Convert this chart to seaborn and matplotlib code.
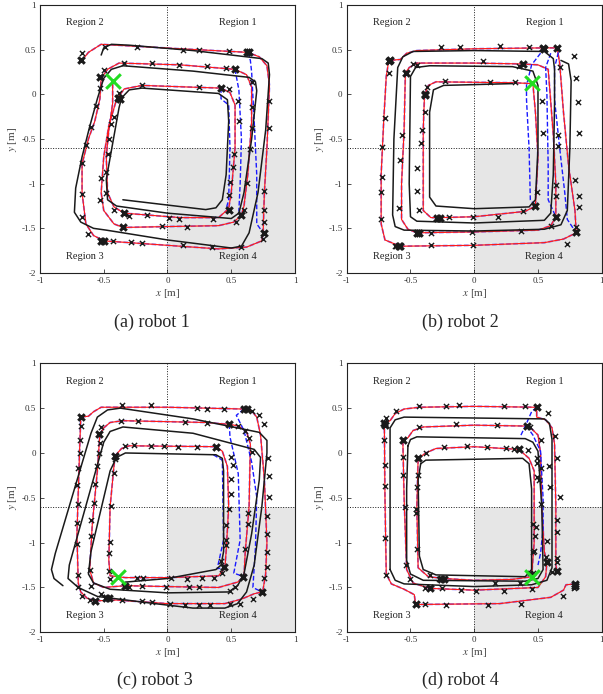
import numpy as np
import pandas as pd
import matplotlib.pyplot as plt
import seaborn as sns

sns.set_theme(style='white')
plt.rcParams['font.family'] = ['Liberation Serif', 'DejaVu Serif']
plt.rcParams['mathtext.fontset'] = 'stix'
plt.rcParams['axes.unicode_minus'] = False

# region split and axis ticks
x_split = 0.0
y_split = -0.6
xticks = [-1, -0.5, 0, 0.5, 1]
xtick_labels = ['-1', '-0.5', '0', '0.5', '1']
yticks = [-2, -1.5, -1, -0.5, 0, 0.5, 1]
ytick_labels = ['-2', '-1.5', '-1', '-0.5', '0', '0.5', '1']
region_names = ['Region 1', 'Region 2', 'Region 3', 'Region 4']
region_xy = [(0.55, 0.80), (-0.65, 0.80), (-0.65, -1.81), (0.55, -1.81)]
captions = ['(a) robot 1', '(b) robot 2', '(c) robot 3', '(d) robot 4']

# ---------------- robot 1 ----------------
red_a = [[(-0.67, 0.38), (-0.62, 0.47), (-0.52, 0.56), (0.10, 0.51), (0.63, 0.47), (0.72, 0.42), (0.78, 0.32),
          (0.80, 0.10), (0.78, -0.6), (0.76, -1.1), (0.75, -1.55), (0.74, -1.64), (0.62, -1.71), (0.40, -1.73),
          (0.0, -1.69), (-0.50, -1.64), (-0.58, -1.58), (-0.64, -1.45), (-0.67, -1.1), (-0.67, -0.78),
          (-0.62, -0.50), (-0.57, -0.30), (-0.53, -0.05), (-0.52, 0.18), (-0.47, 0.28), (-0.38, 0.35),
          (0.10, 0.33), (0.53, 0.28), (0.62, 0.22), (0.66, 0.08), (0.66, -0.3), (0.63, -0.9), (0.60, -1.25),
          (0.58, -1.35), (0.52, -1.43), (0.40, -1.47), (0.0, -1.48), (-0.35, -1.49), (-0.42, -1.45),
          (-0.50, -1.30), (-0.52, -1.10), (-0.50, -0.70), (-0.46, -0.35), (-0.40, -0.06), (-0.34, 0.06),
          (-0.20, 0.10), (0.20, 0.08), (0.42, 0.07), (0.49, 0.02), (0.53, -0.12), (0.53, -0.6), (0.50, -1.10),
          (0.48, -1.28), (0.40, -1.38), (0.10, -1.38), (-0.34, -1.33), (-0.42, -1.26), (-0.47, -1.10),
          (-0.48, -0.70), (-0.46, -0.40), (-0.43, -0.10), (-0.43, 0.15)]]
blue_a = [[(0.63, 0.47), (0.65, 0.38), (0.66, 0.25), (0.68, -0.3), (0.70, -0.9), (0.70, -1.45), (0.75, -1.55)],
          [(0.53, 0.28), (0.54, 0.20), (0.56, 0.05), (0.58, -0.5), (0.57, -1.0), (0.56, -1.30), (0.58, -1.35)],
          [(0.42, 0.07), (0.42, -0.05), (0.48, -0.12), (0.49, -0.6), (0.48, -1.18), (0.46, -1.28), (0.48, -1.28)]]
black_a = [[(-0.52, 0.44), (-0.50, 0.52), (-0.44, 0.56), (-0.30, 0.55), (0.20, 0.49), (0.74, 0.40), (0.79, 0.35),
            (0.80, 0.22), (0.77, -0.40), (0.71, -1.10), (0.64, -1.55), (0.58, -1.70), (0.50, -1.72), (0.0, -1.63),
            (-0.48, -1.52), (-0.58, -1.50), (-0.68, -1.43), (-0.73, -1.32), (-0.72, -1.05), (-0.67, -0.70),
            (-0.61, -0.36), (-0.55, -0.05), (-0.50, 0.18), (-0.44, 0.28), (-0.35, 0.32), (0.20, 0.26),
            (0.64, 0.19), (0.69, 0.14), (0.70, 0.04), (0.66, -0.50), (0.60, -1.10), (0.56, -1.33), (0.50, -1.39),
            (0.0, -1.33), (-0.40, -1.25), (-0.47, -1.18), (-0.48, -0.95), (-0.43, -0.55), (-0.38, -0.15),
            (-0.36, -0.04), (-0.30, 0.05), (-0.20, 0.07), (0.40, 0.01), (0.47, -0.06), (0.48, -0.30),
            (0.46, -0.90), (0.43, -1.18), (0.38, -1.27), (0.30, -1.29), (-0.35, -1.18)]]
marks_a = [(-0.67, 0.46), (-0.49, 0.53), (-0.24, 0.53), (0.12, 0.50), (0.25, 0.50), (0.48, 0.49), (-0.50, 0.27),
           (-0.53, 0.07), (-0.56, -0.13), (-0.60, -0.37), (-0.64, -0.57), (-0.67, -0.77), (-0.67, -1.11),
           (-0.67, -1.37), (-0.62, -1.56), (-0.43, -1.64), (-0.29, -1.65), (-0.20, -1.66), (0.12, -1.69),
           (0.35, -1.71), (0.58, -1.71), (0.75, -1.62), (0.76, -1.43), (0.76, -1.30), (0.76, -1.08), (0.80, -0.38),
           (0.80, -0.08), (-0.34, 0.35), (-0.12, 0.35), (0.09, 0.33), (0.31, 0.32), (0.46, 0.30), (0.66, 0.14),
           (0.66, -0.14), (0.66, -0.38), (0.65, -0.61), (0.62, -0.99), (0.60, -1.29), (0.54, -1.43), (0.15, -1.48),
           (-0.04, -1.47), (-0.42, -1.29), (-0.53, -1.18), (-0.52, -0.94), (-0.48, -1.10), (-0.47, -0.67),
           (-0.46, -0.50), (-0.44, -0.33), (-0.42, -0.25), (-0.38, 0.01), (-0.20, 0.11), (0.25, 0.08), (0.48, 0.06),
           (0.55, -0.07), (0.56, -0.30), (0.52, -0.67), (0.51, -0.81), (0.49, -0.98), (0.48, -1.13), (0.36, -1.40),
           (0.09, -1.39), (0.01, -1.38), (-0.16, -1.35), (-0.30, -1.36), (-0.48, -0.87)]
bold_a = [(-0.68, 0.38), (0.62, 0.47), (0.64, 0.47), (-0.53, 0.19), (-0.52, -1.64), (-0.50, -1.64), (0.76, -1.55),
          (0.53, 0.28), (0.58, -1.35), (-0.35, -1.49), (-0.39, -0.04), (-0.37, -0.05), (0.42, 0.07), (0.48, -1.29),
          (-0.34, -1.33)]
star_a = (-0.425, 0.15)

# ---------------- robot 2 ----------------
red_b = [[(-0.67, 0.38), (-0.69, 0.20), (-0.71, -0.30), (-0.73, -0.90), (-0.73, -1.45), (-0.70, -1.63),
          (-0.58, -1.70), (0.0, -1.69), (0.55, -1.66), (0.70, -1.62), (0.80, -1.55), (0.79, -1.30), (0.74, -0.80),
          (0.70, -0.20), (0.67, 0.35), (0.65, 0.52), (0.54, 0.52), (0.0, 0.51), (-0.45, 0.49), (-0.53, 0.46),
          (-0.58, 0.39), (-0.67, 0.38)],
         [(-0.54, 0.24), (-0.55, -0.40), (-0.57, -1.00), (-0.57, -1.40), (-0.52, -1.51), (-0.45, -1.55),
          (0.0, -1.54), (0.50, -1.52), (0.60, -1.47), (0.64, -1.37), (0.64, -1.0), (0.62, -0.45), (0.59, 0.10),
          (0.58, 0.28), (0.50, 0.33), (0.38, 0.34), (0.0, 0.35), (-0.45, 0.35), (-0.51, 0.30), (-0.54, 0.24)],
         [(-0.39, -0.01), (-0.40, -0.40), (-0.40, -1.30), (-0.34, -1.38), (-0.27, -1.38), (0.0, -1.37),
          (0.40, -1.31), (0.48, -1.25), (0.50, -0.70), (0.48, -0.20), (0.46, 0.12), (0.30, 0.13), (-0.30, 0.14),
          (-0.36, 0.10), (-0.39, -0.01)]]
blue_b = [[(0.52, 0.46), (0.45, 0.33), (0.41, 0.10), (0.41, -0.06), (0.43, -0.6), (0.44, -1.18), (0.48, -1.25)],
          [(0.60, 0.46), (0.56, 0.30), (0.57, 0.0), (0.58, -0.8), (0.58, -1.18), (0.64, -1.37)],
          [(0.66, 0.47), (0.63, 0.30), (0.63, -0.06), (0.67, -0.6), (0.71, -1.1), (0.73, -1.40), (0.80, -1.55)]]
black_b = [[(0.68, 0.38), (0.74, 0.34), (0.76, 0.15), (0.75, -0.60), (0.73, -1.30), (0.68, -1.46), (0.55, -1.51),
            (0.0, -1.53), (-0.55, -1.52), (-0.62, -1.48), (-0.64, -1.35), (-0.63, -0.50), (-0.60, 0.30),
            (-0.56, 0.42), (-0.48, 0.48), (0.0, 0.49), (0.55, 0.48), (0.62, 0.40), (0.63, 0.28), (0.63, -0.10),
            (0.62, -0.90), (0.60, -1.33), (0.55, -1.41), (0.0, -1.44), (-0.45, -1.42), (-0.50, -1.37),
            (-0.51, -1.00), (-0.50, 0.20), (-0.46, 0.30), (-0.35, 0.32), (0.30, 0.31), (0.46, 0.26), (0.50, 0.10),
            (0.50, -0.60), (0.48, -1.18), (0.43, -1.26), (0.0, -1.28), (-0.30, -1.25), (-0.35, -1.15),
            (-0.35, -0.20), (-0.32, 0.05), (-0.24, 0.10), (0.30, 0.12)]]
marks_b = [(-0.67, 0.24), (-0.70, -0.27), (-0.725, -0.595), (-0.725, -0.93), (-0.73, -1.09), (-0.73, -1.40),
           (-0.62, -1.70), (-0.34, -1.69), (-0.006, -1.69), (-0.48, 0.34), (-0.57, -0.45), (-0.58, -0.73),
           (-0.59, -1.27), (-0.34, -1.55), (-0.02, -1.54), (0.37, -1.53), (0.60, -1.47), (0.64, -1.14),
           (0.64, -1.01), (0.66, -0.58), (0.66, -0.45), (0.67, 0.31), (0.43, 0.53), (0.20, 0.54), (-0.11, 0.53),
           (-0.26, 0.53), (-0.37, 0.08), (-0.39, -0.20), (-0.41, -0.40), (-0.42, -0.54), (-0.45, -0.82),
           (-0.45, -1.08), (-0.43, -1.30), (-0.20, -1.37), (-0.01, -1.37), (0.19, -1.37), (0.38, -1.31),
           (0.49, -1.09), (0.53, -0.08), (0.54, -0.43), (-0.23, 0.15), (0.12, 0.14), (0.32, 0.14), (0.35, 0.32),
           (0.07, 0.37), (0.78, 0.43), (0.80, 0.18), (0.81, -0.09), (0.825, -0.43), (0.79, -0.96), (0.825, -1.14),
           (0.82, -1.26), (0.80, -1.48), (0.725, -1.67), (-0.61, -1.70), (-0.45, 0.33)]
bold_b = [(-0.66, 0.385), (-0.67, 0.37), (-0.58, -1.70), (-0.59, -1.70), (-0.535, 0.24), (-0.45, -1.55),
          (-0.43, -1.55), (0.64, -1.37), (0.65, 0.52), (0.54, 0.52), (0.55, 0.51), (-0.39, -0.01), (-0.39, 0.0),
          (-0.27, -1.385), (-0.29, -1.385), (0.477, -1.255), (0.38, 0.34), (0.80, -1.54)]
star_b = (0.45, 0.13)

# ---------------- robot 3 ----------------
red_c = [[(-0.68, 0.40), (-0.62, 0.41), (-0.58, 0.46), (-0.52, 0.51), (0.0, 0.51), (0.60, 0.49), (0.66, 0.47),
          (0.70, 0.40), (0.73, 0.20), (0.76, -0.30), (0.78, -1.00), (0.77, -1.35), (0.75, -1.52), (0.74, -1.55),
          (0.68, -1.57), (0.58, -1.63), (0.45, -1.68), (0.0, -1.68), (-0.40, -1.64), (-0.57, -1.65),
          (-0.63, -1.62), (-0.68, -1.55), (-0.70, -1.45), (-0.71, -0.90), (-0.69, 0.00), (-0.68, 0.40)],
         [(-0.53, 0.21), (-0.50, 0.28), (-0.45, 0.34), (-0.35, 0.36), (0.30, 0.34), (0.485, 0.32), (0.56, 0.30),
          (0.62, 0.24), (0.65, 0.10), (0.64, -0.60), (0.61, -1.10), (0.60, -1.38), (0.55, -1.44), (0.40, -1.50),
          (0.0, -1.49), (-0.33, -1.48), (-0.50, -1.50), (-0.58, -1.45), (-0.61, -1.30), (-0.59, -0.80),
          (-0.55, -0.20), (-0.53, 0.21)],
         [(-0.41, -0.03), (-0.36, 0.05), (-0.30, 0.08), (0.38, 0.07), (0.43, 0.02), (0.47, -0.15), (0.48, -0.60),
          (0.46, -1.10), (0.45, -1.28), (0.40, -1.37), (0.0, -1.39), (-0.33, -1.39), (-0.45, -1.37),
          (-0.46, -1.20), (-0.45, -0.60), (-0.42, -0.15), (-0.41, -0.03)]]
blue_c = [[(0.60, 0.49), (0.54, 0.42), (0.60, 0.25), (0.66, -0.10), (0.70, -0.49), (0.69, -1.05), (0.67, -1.50),
           (0.74, -1.55)],
          [(0.485, 0.32), (0.49, 0.18), (0.555, -0.23), (0.57, -0.97), (0.52, -1.34), (0.60, -1.38)],
          [(0.36, -0.02), (0.43, -0.08), (0.44, -0.97), (0.39, -1.29), (0.45, -1.28)]]
black_c = [[(-0.82, -1.48), (-0.89, -1.40), (-0.91, -1.30), (-0.88, -1.12), (-0.60, 0.22), (-0.55, 0.40),
            (-0.47, 0.48), (-0.37, 0.50), (0.20, 0.38), (0.72, 0.23), (0.78, 0.14), (0.78, 0.00), (0.74, -0.60),
            (0.68, -1.25), (0.62, -1.55), (0.55, -1.68), (0.45, -1.73), (0.20, -1.73), (-0.10, -1.68),
            (-0.55, -1.60), (-0.70, -1.50), (-0.78, -1.40), (-0.77, -1.25), (-0.50, 0.12), (-0.45, 0.24),
            (-0.35, 0.29), (0.20, 0.22), (0.68, 0.04), (0.73, -0.05), (0.72, -0.30), (0.66, -0.90), (0.60, -1.35),
            (0.55, -1.48), (0.48, -1.55), (0.0, -1.56), (-0.45, -1.52), (-0.58, -1.45), (-0.62, -1.35),
            (-0.60, -1.10), (-0.45, -0.20), (-0.40, -0.05), (-0.33, 0.0), (0.38, -0.02), (0.43, -0.06),
            (0.44, -0.20), (0.44, -1.10), (0.42, -1.25), (0.38, -1.30), (0.0, -1.40), (-0.33, -1.44)]]
marks_c = [(-0.68, 0.30), (-0.69, 0.15), (-0.69, -0.004), (-0.70, -0.17), (-0.71, -0.36), (-0.70, -0.57),
           (-0.71, -0.78), (-0.71, -1.01), (-0.70, -1.36), (-0.70, -1.50), (-0.67, -1.59), (-0.61, -1.64),
           (-0.36, 0.54), (-0.13, 0.53), (0.23, 0.50), (0.31, 0.49), (0.44, 0.49), (0.66, 0.47), (0.72, 0.42),
           (0.76, 0.32), (0.79, -0.06), (0.80, -0.26), (0.80, -0.49), (0.78, -0.70), (0.78, -0.90), (0.78, -1.10),
           (0.78, -1.27), (0.76, -1.39), (0.67, -1.63), (0.57, -1.68), (0.49, -1.68), (0.33, -1.70), (0.25, -1.70),
           (0.14, -1.69), (0.02, -1.68), (-0.12, -1.66), (-0.20, -1.65), (-0.36, -1.64), (-0.52, -1.57),
           (-0.52, 0.29), (-0.53, 0.11), (-0.54, 0.0), (-0.55, -0.15), (-0.57, -0.35), (-0.58, -0.56),
           (-0.60, -0.75), (-0.60, -0.93), (-0.61, -1.30), (-0.60, -1.48), (-0.365, 0.36), (-0.23, 0.36),
           (0.14, 0.35), (0.31, 0.33), (0.55, 0.30), (0.61, 0.25), (0.64, 0.17), (0.66, 0.01), (0.63, -0.67),
           (0.63, -0.79), (0.61, -1.07), (0.53, -1.49), (0.49, -1.54), (0.25, -1.50), (0.17, -1.50),
           (-0.014, -1.49), (-0.20, -1.48), (-0.30, -1.50), (-0.33, 0.08), (-0.26, 0.09), (-0.13, 0.08),
           (-0.03, 0.08), (0.08, 0.07), (0.23, 0.07), (0.50, -0.05), (0.51, -0.13), (0.50, -0.29), (0.495, -0.46),
           (0.485, -0.63), (0.46, -0.80), (0.46, -0.97), (0.46, -1.03), (0.42, -1.21), (0.425, -1.34),
           (0.365, -1.39), (0.27, -1.39), (0.155, -1.40), (0.025, -1.39), (-0.19, -1.39), (-0.24, -1.39),
           (-0.45, -1.41), (-0.46, -1.32), (-0.46, -1.12), (-0.45, -0.99), (-0.44, -0.59), (-0.42, -0.22),
           (-0.41, -0.07)]
bold_c = [(-0.68, 0.405), (-0.535, 0.21), (-0.41, -0.03), (0.38, 0.07), (0.485, 0.32), (0.60, 0.49), (0.62, 0.49),
          (0.446, -1.275), (0.595, -1.38), (0.74, -1.55), (-0.33, -1.48), (-0.48, -1.62), (-0.46, -1.62),
          (-0.57, -1.65)]
star_c = (-0.39, -1.38)

# ---------------- robot 4 ----------------
red_d = [[(-0.705, 0.33), (-0.66, 0.36), (-0.62, 0.44), (-0.55, 0.49), (-0.43, 0.51), (0.0, 0.52), (0.49, 0.51),
          (0.49, 0.40), (0.56, 0.37), (0.61, 0.28), (0.63, 0.10), (0.64, -0.60), (0.64, -1.25), (0.65, -1.32)],
         [(0.79, -1.46), (0.72, -1.47), (0.70, -1.53), (0.60, -1.61), (0.20, -1.68), (-0.46, -1.69),
          (-0.47, -1.58), (-0.55, -1.52), (-0.65, -1.46), (-0.69, -1.35), (-0.70, -0.50), (-0.705, 0.33)],
         [(-0.56, 0.145), (-0.52, 0.17), (-0.48, 0.25), (-0.40, 0.29), (0.0, 0.31), (0.41, 0.30), (0.45, 0.27),
          (0.50, 0.20), (0.52, 0.00), (0.53, -0.60), (0.55, -1.10), (0.57, -1.22), (0.56, -1.38), (0.50, -1.50),
          (0.0, -1.53), (-0.35, -1.51), (-0.48, -1.45), (-0.53, -1.30), (-0.55, -0.50), (-0.56, 0.145)],
         [(-0.44, -0.06), (-0.38, 0.00), (-0.30, 0.05), (0.0, 0.07), (0.35, 0.04), (0.43, -0.06), (0.47, -0.20),
          (0.47, -1.00), (0.45, -1.38), (0.30, -1.41), (0.0, -1.42), (-0.24, -1.40), (-0.36, -1.38),
          (-0.44, -1.28), (-0.45, -0.60), (-0.44, -0.06)]]
blue_d = [[(0.49, 0.51), (0.45, 0.46), (0.41, 0.33), (0.36, 0.18)],
          [(0.41, 0.30), (0.46, 0.20), (0.52, 0.02), (0.54, -0.50), (0.54, -0.85), (0.52, -1.12), (0.50, -1.25)]]
black_d = [[(-0.66, -1.30), (-0.66, 0.28), (-0.62, 0.37), (-0.55, 0.40), (0.0, 0.39), (0.55, 0.38), (0.59, 0.33),
            (0.61, 0.15), (0.61, -1.28), (0.57, -1.42), (0.45, -1.47), (0.0, -1.49), (-0.55, -1.46),
            (-0.62, -1.42), (-0.66, -1.30)],
           [(-0.52, 0.08), (-0.50, 0.15), (-0.45, 0.18), (0.40, 0.16), (0.46, 0.12), (0.50, 0.02), (0.53, -0.60),
            (0.54, -1.30), (0.50, -1.40), (0.40, -1.43), (-0.40, -1.42), (-0.50, -1.35), (-0.53, -1.20),
            (-0.53, -0.40), (-0.52, 0.08)],
           [(-0.42, -0.12), (-0.38, -0.08), (0.38, -0.06), (0.43, -0.12), (0.45, -0.40), (0.45, -1.30),
            (0.40, -1.38), (-0.30, -1.36), (-0.40, -1.30), (-0.43, -1.15), (-0.44, -0.30), (-0.42, -0.12)]]
marks_d = [(-0.69, 0.39), (-0.61, 0.47), (-0.43, 0.52), (-0.22, 0.52), (-0.12, 0.53), (0.23, 0.52), (0.40, 0.52),
           (0.58, 0.45), (0.63, 0.19), (0.65, -0.06), (0.59, -0.145), (0.595, -0.375), (0.67, -0.49), (0.65, -0.75),
           (0.65, -0.88), (0.65, -1.17), (0.65, -1.22), (0.57, -0.98), (0.56, -1.16), (0.61, -1.33), (0.78, -1.51),
           (0.70, -1.60), (0.37, -1.68), (0.11, -1.70), (-0.22, -1.70), (-0.39, -1.68), (-0.69, -1.36),
           (-0.70, -0.95), (-0.70, -0.37), (-0.70, -0.13), (-0.705, 0.145), (-0.43, 0.29), (-0.14, 0.32),
           (0.18, 0.31), (0.44, 0.29), (0.52, 0.145), (0.49, -0.06), (0.51, -0.30), (0.52, -0.57), (0.485, -0.83),
           (0.48, -0.93), (0.46, -1.10), (0.46, -1.34), (0.45, -1.52), (0.23, -1.535), (0.01, -1.535),
           (-0.10, -1.53), (-0.25, -1.51), (-0.39, -1.51), (-0.50, -1.405), (-0.535, -1.25), (-0.54, -0.60),
           (-0.56, -0.245), (-0.56, -0.04), (-0.38, 0.004), (-0.235, 0.063), (-0.06, 0.08), (0.10, 0.063),
           (0.25, 0.05), (0.31, 0.04), (0.42, 0.033), (0.495, -0.115), (0.52, -0.17), (0.49, -0.265),
           (0.46, -0.79), (0.47, -1.09), (0.44, -1.34), (0.36, -1.45), (0.16, -1.45), (-0.28, -1.40),
           (-0.35, -1.36), (-0.45, -1.07), (-0.46, -0.67), (-0.46, -0.62), (-0.45, -0.375), (-0.44, -0.245)]
bold_d = [(-0.705, 0.33), (-0.70, 0.31), (-0.56, 0.145), (-0.44, -0.06), (-0.24, -1.40), (-0.26, -1.40),
          (-0.35, -1.51), (-0.46, -1.68), (0.35, 0.04), (0.41, 0.30), (0.49, 0.51), (0.57, -1.22), (0.65, -1.32),
          (0.79, -1.46), (0.79, -1.48)]
star_d = (0.45, -1.38)

panels = [
    (red_a, blue_a, black_a, marks_a, bold_a, star_a),
    (red_b, blue_b, black_b, marks_b, bold_b, star_b),
    (red_c, blue_c, black_c, marks_c, bold_c, star_c),
    (red_d, blue_d, black_d, marks_d, bold_d, star_d),
]


def seg_frame(segs):
    rows = [(i, j, x, y) for i, s in enumerate(segs) for j, (x, y) in enumerate(s)]
    return pd.DataFrame(rows, columns=['seg', 'k', 'x', 'y'])


def draw_lines(ax, segs, **kw):
    sns.lineplot(data=seg_frame(segs), x='x', y='y', units='seg', estimator=None,
                 sort=False, legend=False, ax=ax, **kw)


def draw_marks(ax, pts, **kw):
    df = pd.DataFrame(pts, columns=['x', 'y'])
    sns.scatterplot(data=df, x='x', y='y', marker='x', color='k', legend=False, ax=ax, **kw)


fig = plt.figure(figsize=(6.03, 6.94), dpi=100)
boxes = [[0.0663, 0.6066, 0.4229, 0.3862], [0.575, 0.6066, 0.4229, 0.3862],
         [0.0663, 0.0889, 0.4229, 0.3876], [0.575, 0.0889, 0.4229, 0.3876]]
cap_pos = [(0.252, 0.536), (0.763, 0.536), (0.257, 0.02), (0.763, 0.02)]
dot = (0, (1, 1.6))

for i, (red, blue, black, marks, bold, star) in enumerate(panels):
    ax = fig.add_axes(boxes[i])
    ax.fill_between([x_split, 1], -2, y_split, color='#e6e6e6', lw=0, zorder=0)
    ax.axvline(x_split, color='k', ls=dot, lw=0.7, zorder=1)
    ax.axhline(y_split, color='k', ls=dot, lw=0.7, zorder=1)

    # blue dashed plan underneath the red one where both coincide
    draw_lines(ax, red, color='#5a50ff', lw=1.3, alpha=0.8, linestyle=(0, (2.6, 1.3)), zorder=2)
    draw_lines(ax, red, color='#ff1a1a', lw=0.85, zorder=3)
    draw_lines(ax, blue, color='#1a1aff', lw=1.0, linestyle=(0, (3.4, 1.6)), zorder=3)
    draw_lines(ax, black, color='k', lw=1.1, zorder=4)
    draw_marks(ax, marks, s=14, linewidth=1.0, zorder=5)
    draw_marks(ax, bold, s=22, linewidth=2.2, zorder=5)
    sns.scatterplot(x=[star[0]], y=[star[1]], marker='x', s=110, linewidth=2.2,
                    color='#22dd22', legend=False, ax=ax, zorder=6)

    for name, (tx, ty) in zip(region_names, region_xy):
        ax.text(tx, ty, name, ha='center', va='center', fontsize=7.5, color='#222222')

    ax.set_xlim(-1, 1)
    ax.set_ylim(-2, 1)
    ax.set_xticks(xticks)
    ax.set_xticklabels(xtick_labels)
    ax.set_yticks(yticks)
    ax.set_yticklabels(ytick_labels)
    ax.tick_params(direction='in', length=3, width=0.6, labelsize=6.5, colors='#333333', pad=3,
                   bottom=True, left=True)
    ax.set_xlabel('$x$ [m]', fontsize=8, color='#444444', labelpad=1)
    ax.set_ylabel('$y$ [m]', fontsize=8, color='#444444', labelpad=2)
    for sp in ax.spines.values():
        sp.set_color('#222222')
        sp.set_linewidth(0.8)
    fig.text(cap_pos[i][0], cap_pos[i][1], captions[i], ha='center', va='center', fontsize=13)

fig.savefig('out.png', dpi=100)
